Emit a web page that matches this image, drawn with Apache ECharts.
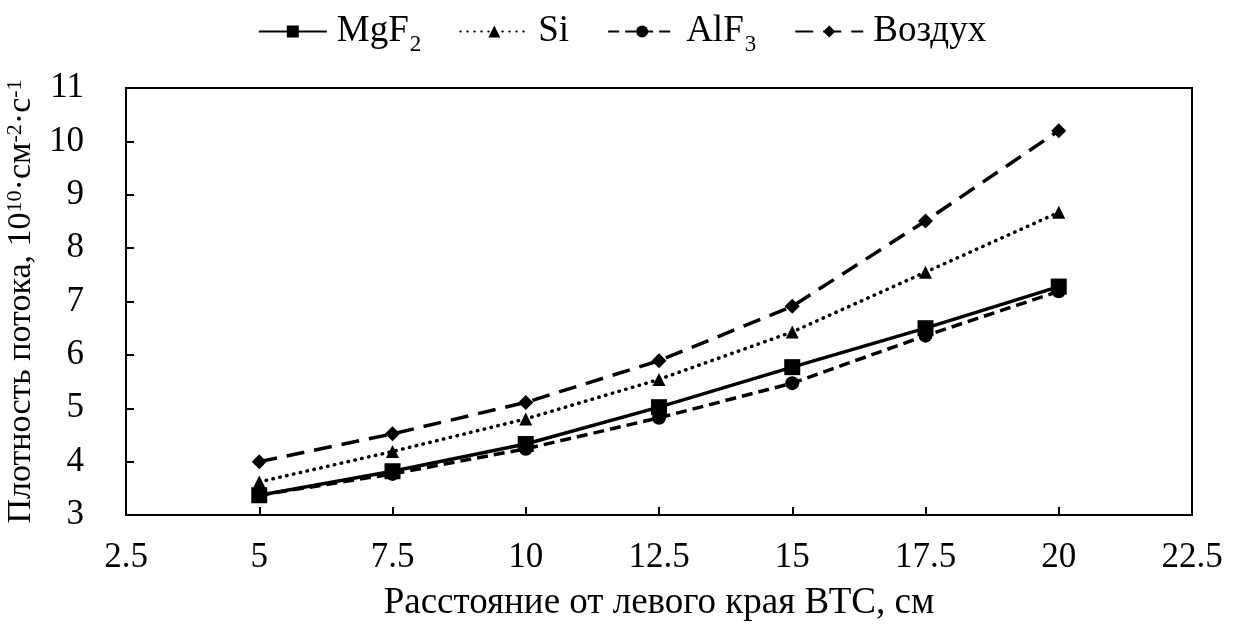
<!DOCTYPE html>
<html>
<head>
<meta charset="utf-8">
<script src="https://cdn.jsdelivr.net/npm/echarts@6/dist/echarts.min.js"></script>
<style>html,body{margin:0;padding:0;background:#fff;}#c{width:1244px;height:630px;}</style>
</head>
<body>
<div id="c"></div>
<script>
const xValues = [5, 7.5, 10, 12.5, 15, 17.5, 20];
const mgf2 = [3.37, 3.82, 4.33, 5.02, 5.77, 6.50, 7.28];
const si = [3.62, 4.19, 4.80, 5.54, 6.43, 7.55, 8.67];
const alf3 = [3.37, 3.77, 4.24, 4.82, 5.47, 6.36, 7.19];
const air = [4.00, 4.52, 5.11, 5.89, 6.91, 8.51, 10.20];
const seriesNames = ['MgF2', 'Si', 'AlF3', 'Воздух'];
const legendRich = {
  'MgF2': '{n|MgF}{s|2}',
  'Si': '{n|Si}',
  'AlF3': '{n|AlF}{s|3}',
  'Воздух': '{n|Воздух}'
};

const FONT = '"Liberation Serif", "Times New Roman", serif';
const pts = arr => xValues.map((x, i) => [x, arr[i]]);

const chart = echarts.init(document.getElementById('c'), null, {renderer: 'canvas'});
chart.setOption({
  animation: false,
  backgroundColor: '#fff',
  legend: {
    top: 8,
    left: 'center',
    itemWidth: 68,
    itemHeight: 15,
    itemGap: 38,
    data: seriesNames,
    formatter: name => legendRich[name],
    textStyle: {
      color: '#000',
      fontFamily: FONT,
      fontSize: 37,
      padding: [0, 0, 0, 5],
      rich: {
        n: {fontSize: 37, fontFamily: FONT, color: '#000', lineHeight: 37, verticalAlign: 'top'},
        s: {fontSize: 23, fontFamily: FONT, color: '#000', lineHeight: 23, padding: [20, 0, 0, 1], verticalAlign: 'top'}
      }
    }
  },
  grid: {left: 126, right: 52, top: 88, bottom: 115, show: true, borderColor: '#000', borderWidth: 2, outerBoundsMode: 'none', containLabel: false},
  xAxis: {
    type: 'value', min: 2.5, max: 22.5, interval: 2.5,
    name: 'Расстояние от левого края ВТС, см',
    nameLocation: 'middle', nameGap: 70,
    nameTextStyle: {fontFamily: FONT, fontSize: 37, color: '#000'},
    axisLine: {lineStyle: {color: '#000', width: 2}},
    axisTick: {inside: true, length: 8, lineStyle: {color: '#000', width: 2}},
    axisLabel: {fontFamily: FONT, fontSize: 35, color: '#000', margin: 25},
    splitLine: {show: false}
  },
  yAxis: {
    type: 'value', min: 3, max: 11, interval: 1,
    name: '{n|Плотность потока, 10}{s|10}{n|·см}{s|-2}{n|·с}{s|-1}',
    nameLocation: 'middle', nameGap: 76, nameRotate: 90,
    nameTextStyle: {
      fontFamily: FONT, fontSize: 34, color: '#000',
      rich: {
        n: {fontSize: 34, fontFamily: FONT, color: '#000', lineHeight: 34, padding: [10, 0, 0, 0], verticalAlign: 'bottom'},
        s: {fontSize: 22, fontFamily: FONT, color: '#000', lineHeight: 22, verticalAlign: 'top'}
      }
    },
    axisLine: {lineStyle: {color: '#000', width: 2}},
    axisTick: {inside: true, length: 8, lineStyle: {color: '#000', width: 2}},
    axisLabel: {fontFamily: FONT, fontSize: 35, color: '#000', margin: 42},
    splitLine: {show: false}
  },
  series: [
    {name: 'MgF2', type: 'line', data: pts(mgf2), symbol: 'rect', symbolSize: 16, z: 5,
     lineStyle: {color: '#000', width: 3.5, type: 'solid'}, itemStyle: {color: '#000'}},
    {name: 'Si', type: 'line', data: pts(si), symbol: 'triangle', symbolSize: 13, z: 4,
     lineStyle: {color: '#000', width: 3.5, type: [0.5, 6.5], cap: 'round'}, itemStyle: {color: '#000'}},
    {name: 'AlF3', type: 'line', data: pts(alf3), symbol: 'circle', symbolSize: 14, z: 3,
     lineStyle: {color: '#000', width: 3.5, type: [11, 6]}, itemStyle: {color: '#000'}},
    {name: 'Воздух', type: 'line', data: pts(air), symbol: 'diamond', symbolSize: 15, z: 2,
     lineStyle: {color: '#000', width: 3.5, type: [18, 10]}, itemStyle: {color: '#000'}}
  ]
});
</script>
</body>
</html>
